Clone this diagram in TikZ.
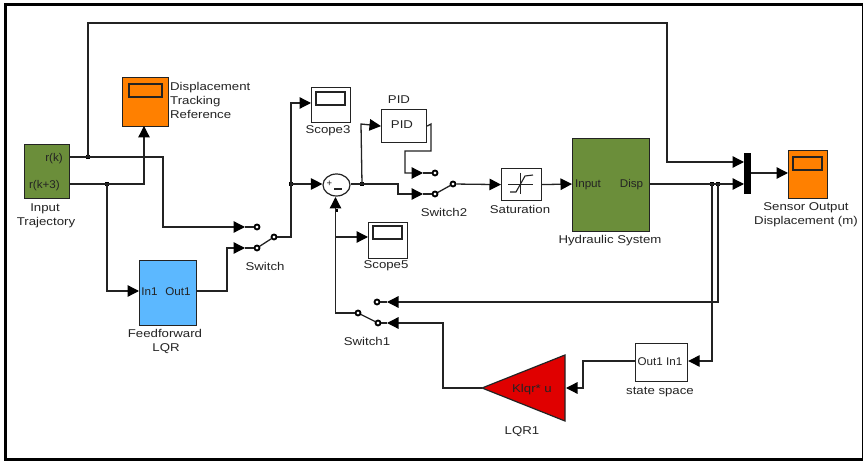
\documentclass[tikz,border=0pt]{standalone}
\usepackage{fontspec}
\setmainfont{Liberation Sans}
\newfontfamily\labfont[FakeStretch=1.17]{Liberation Sans}
\newfontfamily\inkfont[FakeStretch=1.04]{Liberation Sans}
\usetikzlibrary{arrows.meta,shapes.geometric}
\definecolor{blkgreen}{RGB}{107,142,58}
\definecolor{blkorange}{RGB}{255,128,0}
\definecolor{blkblue}{RGB}{92,184,255}
\definecolor{blkred}{RGB}{224,0,0}
\definecolor{ink}{RGB}{35,35,35}
\tikzset{
  x=1pt,y=-1pt,
  txt/.style={font=\labfont\fontsize{11.3}{14}\selectfont,text=ink,inner sep=0pt,text height=8pt,text depth=0pt,yshift=-0.7pt},
  intxt/.style={font=\inkfont\fontsize{11.2}{14}\selectfont,text=ink,inner sep=0pt,text height=8pt,text depth=0pt,yshift=-0.7pt},
  wire/.style={draw=ink,line width=1.3pt},
  sig/.style={wire,-{Triangle[length=11.5pt,width=11.5pt,color=black]}},
  dot/.style={rectangle,fill=black,inner sep=0pt,minimum size=4pt},
  contact/.style={circle,draw=black,fill=white,line width=1.8pt,inner sep=0pt,minimum size=5pt},
}
\newcommand{\blockat}[6]{%name,x1,y1,x2,y2,fill
  \node[draw=ink,line width=1.2pt,fill=#6,inner sep=0pt,minimum width=#4pt-#2pt,minimum height=#5pt-#3pt,anchor=north west] (#1) at (#2,#3) {};}
\newcommand{\scopeat}[9]{%name,x1,y1,x2,y2,fill,ix1,iy1 ,ix2
  \blockat{#1}{#2}{#3}{#4}{#5}{#6}\draw[line width=1.1pt,draw=ink] (#7,#8) rectangle (#9,#8+13);}
\begin{document}
\begin{tikzpicture}
\useasboundingbox (0,0) rectangle (863,462);
\fill[white] (0,0) rectangle (863,462);
\node[draw=black,line width=3pt,inner sep=0pt,minimum width=858pt,minimum height=454.5pt,anchor=north west] (frame) at (3.5,3.5) {};

% blocks
\blockat{input}{24}{144}{69}{198}{blkgreen}
\scopeat{disp}{122}{77}{168}{126}{blkorange}{129}{84}{162}
\blockat{ff}{139}{260}{196}{325}{blkblue}
\scopeat{scthree}{311}{87}{350}{122}{white}{316}{92}{345}
\scopeat{scfive}{368}{222}{407}{258}{white}{373}{226}{402}
\blockat{pid}{381}{109}{426}{142}{white}
\blockat{sat}{501}{168}{541}{200}{white}
\blockat{hyd}{572}{138}{649}{231}{blkgreen}
\scopeat{out}{788}{150}{827}{198}{blkorange}{793}{157}{822}
\blockat{ss}{635}{343}{687}{381}{white}
\node[fill=black,inner sep=0pt,minimum width=7pt,minimum height=41pt,anchor=north west] (mux) at (744,153) {};
\node[ellipse,draw=ink,line width=1.2pt,fill=white,inner sep=0pt,minimum width=27pt,minimum height=22pt] (sum) at (336.5,185) {};
\node[font=\fontsize{9.5}{9.5}\selectfont,inner sep=0pt,text=ink] (sumplus) at (329.5,184) {+};
\node[rectangle,fill=ink,inner sep=0pt,minimum width=8pt,minimum height=1.2pt] (summinus) at (337.5,189) {};
\draw[fill=blkred,draw=ink,line width=1.2pt] (482,388) -- (565,355) -- (565,421) -- cycle;
\coordinate (gainin) at (566,388);
\coordinate (gainout) at (482,388);

% saturation icon
\draw[ink,line width=.7pt] (508,184) -- (533,184) (520,173) -- (520,194);
\draw[ink,line width=1.1pt] (510,192) -- (516,192) -- (525,176) -- (533,175);

% switch contacts
\node[contact] (swa) at (257,227) {};
\node[contact] (swb) at (257,248) {};
\node[contact] (swp) at (274,237) {};
\node[contact] (stwoa) at (435,173) {};
\node[contact] (stwob) at (435,194) {};
\node[contact] (stwop) at (453,184) {};
\node[contact] (sonea) at (377,302) {};
\node[contact] (soneb) at (378,323) {};
\node[contact] (sonep) at (358,313) {};
\draw[wire] (swb) -- (swp);
\draw[wire] (stwob) -- (stwop);
\draw[wire] (soneb) -- (sonep);
\coordinate (tipswa) at (245,227);
\coordinate (tipswb) at (245,248);
\coordinate (tipstwoa) at (423,173);
\coordinate (tipstwob) at (423,194);
\coordinate (tipsonea) at (387,302);
\coordinate (tipsoneb) at (387,323);
\draw[wire] (tipswa) -- (swa) (tipswb) -- (swb) (tipstwoa) -- (stwoa) (tipstwob) -- (stwob) (tipsonea) -- (sonea) (tipsoneb) -- (soneb);

% junctions
\node[dot] (jrk) at (88,157) {};
\node[dot] (jrkt) at (107,184) {};
\node[dot] (jsw) at (291,184) {};
\node[dot] (jsum) at (362,184) {};
\node[dot] (jda) at (712,184) {};
\node[dot] (jdb) at (718,184) {};
\node[dot,minimum size=3pt] (jfb) at (336,211) {};

% wires
\draw[sig] (69,157) -- (jrk.center) -- (163,157) -- (163,227) -- (tipswa);
\draw[sig] (jrk.center) -- (88,23) -- (667,23) -- (667,162) -- (744,162);
\draw[sig] (69,184) -- (jrkt.center) -- (144,184) -- (144,126);
\draw[sig] (jrkt.center) -- (107,291) -- (ff.west |- 0,291);
\draw[sig] (ff.east |- 0,291) -- (227,291) -- (227,248) -- (tipswb);
\draw[wire] (swp) -- (291,237) -- (jsw.center);
\draw[sig] (jsw.center) -- (291,103) -- (scthree.west |- 0,103);
\draw[sig] (jsw.center) -- (sum.west |- 0,184);
\draw[wire] (sum.east |- 0,184) -- (jsum.center);
\draw[sig] (jsum.center) -- (361,124) -- (pid.west);
\draw[sig] (jsum.center) -- (398,184) -- (398,194) -- (tipstwob);
\draw[sig] (pid.east) -- (431,124) -- (431,151) -- (405,151) -- (405,173) -- (tipstwoa);
\draw[sig] (stwop) -- (sat.west);
\draw[sig] (sat.east) -- (hyd.west |- 0,184);
\draw[wire] (hyd.east |- 0,184) -- (jda.center);
\draw[wire] (jda.center) -- (jdb.center);
\draw[sig] (jdb.center) -- (744,184);
\draw[sig] (mux.east |- 0,173) -- (out.west |- 0,173);
\draw[sig] (jdb.center) -- (718,302) -- (tipsonea);
\draw[sig] (jda.center) -- (712,361) -- (ss.east |- 0,361);
\draw[sig] (ss.west |- 0,361) -- (583,361) -- (583,388) -- (gainin);
\draw[sig] (gainout) -- (443,388) -- (443,323) -- (tipsoneb);
\draw[sig] (sonep) -- (335.5,313) -- (335.5,197);
\draw[sig] (335.5,237) -- (scfive.west |- 0,237);

% labels
\node[txt,anchor=west] (t1) at (170,86) {Displacement};
\node[txt,anchor=west] (t2) at (170,100) {Tracking};
\node[txt,anchor=west] (t3) at (170,114) {Reference};
\node[intxt,anchor=east] (t4) at (63,157) {r(k)};
\node[intxt,anchor=east] (t5) at (60,184) {r(k+3)};
\node[txt] (t6) at (45,207) {Input};
\node[txt] (t7) at (46,221) {Trajectory};
\node[intxt] (t8) at (149.5,291) {In1};
\node[intxt] (t9) at (178,291) {Out1};
\node[txt] (t10) at (165,333) {Feedforward};
\node[txt] (t11) at (166,347) {LQR};
\node[txt] (t12) at (265,266) {Switch};
\node[txt] (t13) at (328,129) {Scope3};
\node[txt] (t14) at (386,264) {Scope5};
\node[txt] (t15) at (399,99) {PID};
\node[txt] (t16) at (402,124) {PID};
\node[txt] (t17) at (444,212) {Switch2};
\node[txt] (t18) at (520,209) {Saturation};
\node[intxt] (t19) at (588,183) {Input};
\node[intxt] (t20) at (631.5,183) {Disp};
\node[txt] (t21) at (610,239) {Hydraulic System};
\node[txt] (t22) at (806,206) {Sensor Output};
\node[txt] (t23) at (806,220) {Displacement (m)};
\node[txt] (t24) at (367,341) {Switch1};
\node[txt] (t25) at (660,390) {state space};
\node[txt] (t26) at (522,430) {LQR1};
\node[txt] (t27) at (532,388) {Klqr* u};
\node[intxt] (t28) at (660,361) {Out1 In1};
\end{tikzpicture}
\end{document}
